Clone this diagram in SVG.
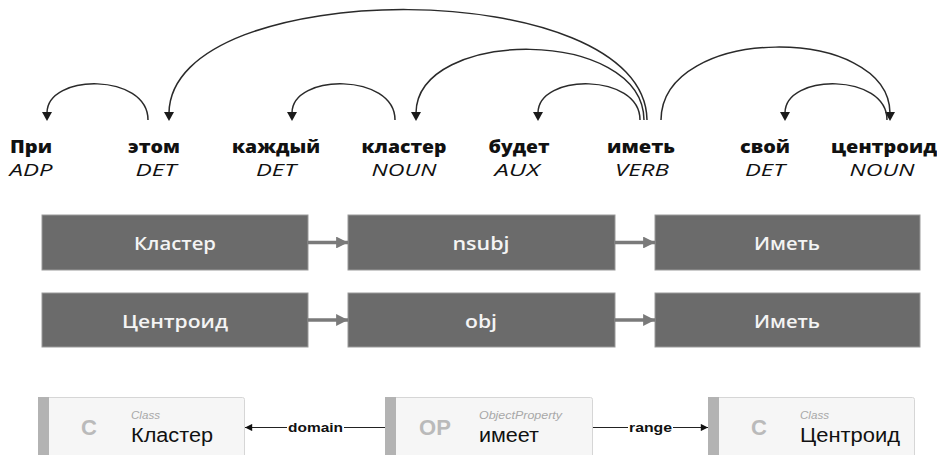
<svg xmlns="http://www.w3.org/2000/svg" width="937" height="455" viewBox="0 0 937 455">
  <style>
    .word { font-family: "Open Sans", "DejaVu Sans", sans-serif; font-size: 17px; font-weight: 800; fill: #111; text-anchor: middle; }
    .tag { font-family: "Open Sans", "DejaVu Sans", sans-serif; font-size: 17px; font-style: italic; fill: #111; text-anchor: middle; }
    .arc { fill: none; stroke: #2a2a2a; stroke-width: 1.5; }
    .head { fill: #1a1a1a; }
    .box { fill: #6b6b6b; stroke: #9a9a9a; stroke-width: 1; }
    .boxtxt { font-family: "Open Sans", "DejaVu Sans", sans-serif; font-size: 18px; font-weight: 600; fill: #f4f4f4; text-anchor: middle; }
    .flow { stroke: #7a7a7a; stroke-width: 3.5; fill: none; }
    .card { fill: #f6f6f6; stroke: #d6d6d6; stroke-width: 1; }
    .bar { fill: #b3b3b3; }
    .kind { font-family: "Liberation Sans", Arial, sans-serif; font-size: 22px; font-weight: bold; fill: #bababa; text-anchor: middle; }
    .type { font-family: "Liberation Sans", Arial, sans-serif; font-size: 11px; font-style: italic; fill: #a8a8a8; }
    .name { font-family: "Liberation Sans", Arial, sans-serif; font-size: 20px; fill: #111; }
    .rel { font-family: "Liberation Sans", Arial, sans-serif; font-size: 13px; font-weight: bold; fill: #111; text-anchor: middle; }
    .link { stroke: #222; stroke-width: 1.2; fill: none; }
  </style>
  <defs>
    <marker id="flowHead" viewBox="0 0 10 10" refX="10" refY="5" markerWidth="3.6" markerHeight="3.4" orient="auto" markerUnits="strokeWidth">
      <path d="M0,0 L10,5 L0,10 Z" fill="#7a7a7a"/>
    </marker>
    <marker id="linkHead" viewBox="0 0 10 10" refX="10" refY="5" markerWidth="7" markerHeight="6" orient="auto" markerUnits="strokeWidth">
      <path d="M0,0 L10,5 L0,10 Z" fill="#111"/>
    </marker>
  </defs>

  <!-- dependency parse: tokens -->
  <g id="tok-pri"><text class="word" x="31" y="153" textLength="42" lengthAdjust="spacingAndGlyphs">При</text><text class="tag" x="31" y="176" textLength="43" lengthAdjust="spacingAndGlyphs">ADP</text></g>
  <g id="tok-etom"><text class="word" x="154" y="153" textLength="52" lengthAdjust="spacingAndGlyphs">этом</text><text class="tag" x="156" y="176" textLength="41" lengthAdjust="spacingAndGlyphs">DET</text></g>
  <g id="tok-kazhdyj"><text class="word" x="276" y="153" textLength="88" lengthAdjust="spacingAndGlyphs">каждый</text><text class="tag" x="276" y="176" textLength="40" lengthAdjust="spacingAndGlyphs">DET</text></g>
  <g id="tok-klaster"><text class="word" x="404" y="153" textLength="85" lengthAdjust="spacingAndGlyphs">кластер</text><text class="tag" x="404" y="176" textLength="65" lengthAdjust="spacingAndGlyphs">NOUN</text></g>
  <g id="tok-budet"><text class="word" x="519" y="153" textLength="61" lengthAdjust="spacingAndGlyphs">будет</text><text class="tag" x="517" y="176" textLength="45" lengthAdjust="spacingAndGlyphs">AUX</text></g>
  <g id="tok-imet"><text class="word" x="641" y="153" textLength="68" lengthAdjust="spacingAndGlyphs">иметь</text><text class="tag" x="642" y="176" textLength="54" lengthAdjust="spacingAndGlyphs">VERB</text></g>
  <g id="tok-svoj"><text class="word" x="765" y="153" textLength="50" lengthAdjust="spacingAndGlyphs">свой</text><text class="tag" x="765" y="176" textLength="40" lengthAdjust="spacingAndGlyphs">DET</text></g>
  <g id="tok-centroid"><text class="word" x="884" y="153" textLength="106" lengthAdjust="spacingAndGlyphs">центроид</text><text class="tag" x="882" y="176" textLength="65" lengthAdjust="spacingAndGlyphs">NOUN</text></g>

  <!-- dependency arcs -->
  <g id="arcs">
    <path class="arc" d="M148,120 C148,73 47,73 47,113"/>
    <path class="head" d="M42,112 L52,112 L47,121 Z"/>
    <path class="arc" d="M647,120 C645,-26 171,-26 169,113"/>
    <path class="head" d="M164,112 L174,112 L169,121 Z"/>
    <path class="arc" d="M395,120 C395,73 292,73 292,113"/>
    <path class="head" d="M287,112 L297,112 L292,121 Z"/>
    <path class="arc" d="M644,120 C643,27 417,27 416,113"/>
    <path class="head" d="M411,112 L421,112 L416,121 Z"/>
    <path class="arc" d="M640,120 C640,73 538,73 538,113"/>
    <path class="head" d="M533,112 L543,112 L538,121 Z"/>
    <path class="arc" d="M661,120 C662,24 889,24 890,113"/>
    <path class="head" d="M885,112 L895,112 L890,121 Z"/>
    <path class="arc" d="M887,120 C887,73 785,73 785,113"/>
    <path class="head" d="M780,112 L790,112 L785,121 Z"/>
  </g>

  <!-- relation triples -->
  <g id="row1-subject"><rect class="box" x="42" y="215" width="266" height="55"/><text class="boxtxt" x="175" y="250" textLength="82" lengthAdjust="spacingAndGlyphs">Кластер</text></g>
  <g id="row1-relation"><rect class="box" x="348" y="215" width="267" height="55"/><text class="boxtxt" x="481" y="250" textLength="57" lengthAdjust="spacingAndGlyphs">nsubj</text></g>
  <g id="row1-head"><rect class="box" x="655" y="215" width="265" height="55"/><text class="boxtxt" x="787" y="250" textLength="66" lengthAdjust="spacingAndGlyphs">Иметь</text></g>
  <g id="row2-object"><rect class="box" x="42" y="293" width="266" height="54"/><text class="boxtxt" x="175" y="328" textLength="106" lengthAdjust="spacingAndGlyphs">Центроид</text></g>
  <g id="row2-relation"><rect class="box" x="348" y="293" width="267" height="54"/><text class="boxtxt" x="481" y="328" textLength="32" lengthAdjust="spacingAndGlyphs">obj</text></g>
  <g id="row2-head"><rect class="box" x="655" y="293" width="265" height="54"/><text class="boxtxt" x="787" y="328" textLength="66" lengthAdjust="spacingAndGlyphs">Иметь</text></g>

  <g id="flow-arrows">
    <line class="flow" x1="308" y1="242.5" x2="348" y2="242.5" marker-end="url(#flowHead)"/>
    <line class="flow" x1="615" y1="242.5" x2="655" y2="242.5" marker-end="url(#flowHead)"/>
    <line class="flow" x1="308" y1="320" x2="348" y2="320" marker-end="url(#flowHead)"/>
    <line class="flow" x1="615" y1="320" x2="655" y2="320" marker-end="url(#flowHead)"/>
  </g>

  <!-- ontology fragment -->
  <g id="class-klaster">
    <rect class="card" x="38.5" y="397.5" width="206" height="70" rx="2"/>
    <rect class="bar" x="38" y="397" width="11" height="60"/>
    <text class="kind" x="89" y="435">C</text>
    <text class="type" x="131" y="419" textLength="29" lengthAdjust="spacingAndGlyphs">Class</text>
    <text class="name" x="131" y="442" textLength="82" lengthAdjust="spacingAndGlyphs">Кластер</text>
  </g>
  <g id="prop-imeet">
    <rect class="card" x="385.5" y="397.5" width="207" height="70" rx="2"/>
    <rect class="bar" x="385" y="397" width="11" height="60"/>
    <text class="kind" x="435" y="435">OP</text>
    <text class="type" x="479" y="419" textLength="83" lengthAdjust="spacingAndGlyphs">ObjectProperty</text>
    <text class="name" x="479" y="442" textLength="60" lengthAdjust="spacingAndGlyphs">имеет</text>
  </g>
  <g id="class-centroid">
    <rect class="card" x="708.5" y="397.5" width="206" height="70" rx="2"/>
    <rect class="bar" x="708" y="397" width="11" height="60"/>
    <text class="kind" x="759" y="435">C</text>
    <text class="type" x="800" y="419" textLength="29" lengthAdjust="spacingAndGlyphs">Class</text>
    <text class="name" x="800" y="442" textLength="100" lengthAdjust="spacingAndGlyphs">Центроид</text>
  </g>

  <g id="ontology-links">
    <line class="link" x1="385" y1="427.5" x2="245" y2="427.5" marker-end="url(#linkHead)"/>
    <rect x="287" y="419" width="57" height="16" fill="#fff"/>
    <text class="rel" x="315.5" y="432" textLength="55" lengthAdjust="spacingAndGlyphs">domain</text>
    <line class="link" x1="593" y1="427.5" x2="708" y2="427.5" marker-end="url(#linkHead)"/>
    <rect x="628" y="419" width="45" height="16" fill="#fff"/>
    <text class="rel" x="650.5" y="432" textLength="43" lengthAdjust="spacingAndGlyphs">range</text>
  </g>
</svg>
